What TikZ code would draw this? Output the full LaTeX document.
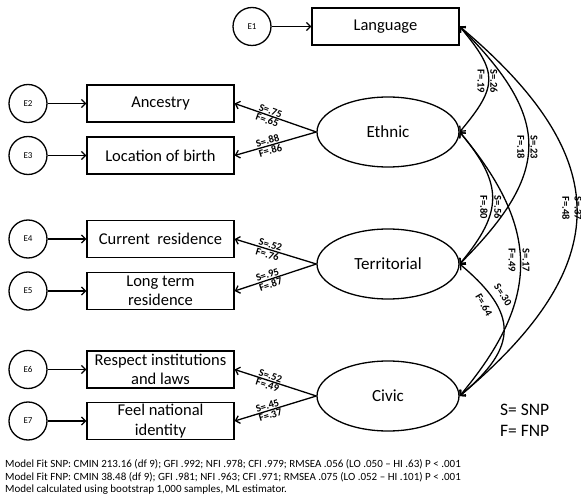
\documentclass[tikz,border=0pt]{standalone}
\usepackage{fontspec}
\setmainfont{Carlito}
\usetikzlibrary{shapes.geometric,arrows.meta}
\begin{document}
\begin{tikzpicture}[x=1pt,y=1pt,
  >={Straight Barb[length=4pt,width=8pt]},
  box/.style={draw, line width=1.3pt, minimum width=147pt, minimum height=37pt, inner sep=0pt, align=center, font=\fontsize{16.5}{19.5}\selectfont},
  lat/.style={draw, ellipse, line width=1.3pt, minimum width=142pt, minimum height=70pt, inner sep=0pt, font=\fontsize{17}{19}\selectfont},
  err/.style={draw, circle, line width=1.3pt, minimum size=38pt, inner sep=0pt, font=\fontsize{9}{10}\selectfont},
  pth/.style={line width=1.3pt},
  cov/.style={line width=1.3pt, <->},
  lbl/.style={font=\fontsize{10.5}{12}\selectfont\bfseries, inner sep=0.3pt},
  foot/.style={font=\fontsize{11}{13}\selectfont, anchor=base west, inner sep=0pt},
  leg/.style={font=\fontsize{17.5}{20}\selectfont, anchor=west, inner sep=0pt}
]
\useasboundingbox (0,0) rectangle (581,-497);

% error terms and indicators
\node[err] (e1) at (252,-26.5) {E1};
\node[box] (lang) at (385.5,-26.5) {Language};
\node[err] (e2) at (28,-103.5) {E2};
\node[box] (anc) at (160.5,-103.5) {Ancestry};
\node[err] (e3) at (28,-155.5) {E3};
\node[box] (loc) at (160.5,-155.5) {Location of birth};
\node[err] (e4) at (28,-239) {E4};
\node[box] (cur) at (160.5,-239) {Current\ \ residence};
\node[err] (e5) at (28,-291) {E5};
\node[box] (lng) at (160.5,-291) {Long term\\residence};
\node[err] (e6) at (28,-369.5) {E6};
\node[box] (res) at (160.5,-369.5) {Respect institutions\\and laws};
\node[err] (e7) at (28,-421) {E7};
\node[box] (fel) at (160.5,-421) {Feel national\\identity};

% latent factors
\node[lat] (eth) at (388,-132) {Ethnic};
\node[lat] (ter) at (388,-264) {Territorial};
\node[lat] (civ) at (388,-396) {Civic};

% error arrows
\foreach \e/\b in {e1/lang,e2/anc,e3/loc,e4/cur,e5/lng,e6/res,e7/fel}
  \draw[pth,->] (\e.east) -- (\b.west);

% loadings
\draw[pth,<-] (anc.east) -- node[lbl,pos=0.42,sloped,above=0.5pt]{S=.75} node[lbl,pos=0.42,sloped,below=0.5pt]{F=.65} (eth.west);
\draw[pth,<-] (loc.east) -- node[lbl,pos=0.42,sloped,above=0.5pt]{S=.88} node[lbl,pos=0.42,sloped,below=0.5pt]{F=.86} (eth.west);
\draw[pth,<-] (cur.east) -- node[lbl,pos=0.42,sloped,above=0.5pt]{S=.52} node[lbl,pos=0.42,sloped,below=0.5pt]{F=.76} (ter.west);
\draw[pth,<-] (lng.east) -- node[lbl,pos=0.42,sloped,above=0.5pt]{S=.95} node[lbl,pos=0.42,sloped,below=0.5pt]{F=.87} (ter.west);
\draw[pth,<-] (res.east) -- node[lbl,pos=0.42,sloped,above=0.5pt]{S=.52} node[lbl,pos=0.42,sloped,below=0.5pt]{F=.49} (civ.west);
\draw[pth,<-] (fel.east) -- node[lbl,pos=0.42,sloped,above=0.5pt]{S=.45} node[lbl,pos=0.42,sloped,below=0.5pt]{F=.37} (civ.west);

% covariances
\draw[cov] (lang.east) to[out=-50,in=50,distance=60pt] (eth.east);
\draw[cov] (lang.east) to[out=-45,in=45,distance=130pt] (ter.east);
\draw[cov] (lang.east) to[out=-40,in=40,distance=204pt] (civ.east);
\draw[cov] (eth.east) to[out=-50,in=50,distance=68pt] (ter.east);
\draw[cov] (eth.east) to[out=-50,in=50,distance=126pt] (civ.east);
\draw[cov] (ter.east) to[out=-40,in=40,distance=77pt] (civ.east);

% covariance labels
\node[lbl,rotate=-90] (l1s) at (494,-81) {S=.26};
\node[lbl,rotate=-90] (l1f) at (481,-81) {F=.19};
\node[lbl,rotate=-90] (l2s) at (534,-147) {S=.23};
\node[lbl,rotate=-90] (l2f) at (521,-147) {F=.18};
\node[lbl,rotate=-90] (l3s) at (578,-208) {S=.37};
\node[lbl,rotate=-90] (l3f) at (566,-208) {F=.48};
\node[lbl,rotate=-90] (l4s) at (498,-207) {S=.56};
\node[lbl,rotate=-90] (l4f) at (484,-207) {F=.80};
\node[lbl,rotate=-90] (l5s) at (526,-260) {S=.17};
\node[lbl,rotate=-90] (l5f) at (512,-260) {F=.49};
\node[lbl,rotate=-57] (l6s) at (503,-295) {S=.30};
\node[lbl,rotate=-60] (l6f) at (484,-305) {F=.64};

% legend
\node[leg] (legs) at (500,-410) {S= SNP};
\node[leg] (legf) at (500,-431) {F= FNP};

% footer
\node[foot] (f1) at (5,-467) {Model Fit SNP: CMIN 213.16 (df 9); GFI .992; NFI .978; CFI .979; RMSEA .056 (LO .050 – HI .63) P < .001};
\node[foot] (f2) at (5,-480) {Model Fit FNP: CMIN 38.48 (df 9); GFI .981; NFI .963; CFI .971; RMSEA .075 (LO .052 – HI .101) P < .001};
\node[foot] (f3) at (5,-492) {Model calculated using bootstrap 1,000 samples, ML estimator.};
\end{tikzpicture}
\end{document}
